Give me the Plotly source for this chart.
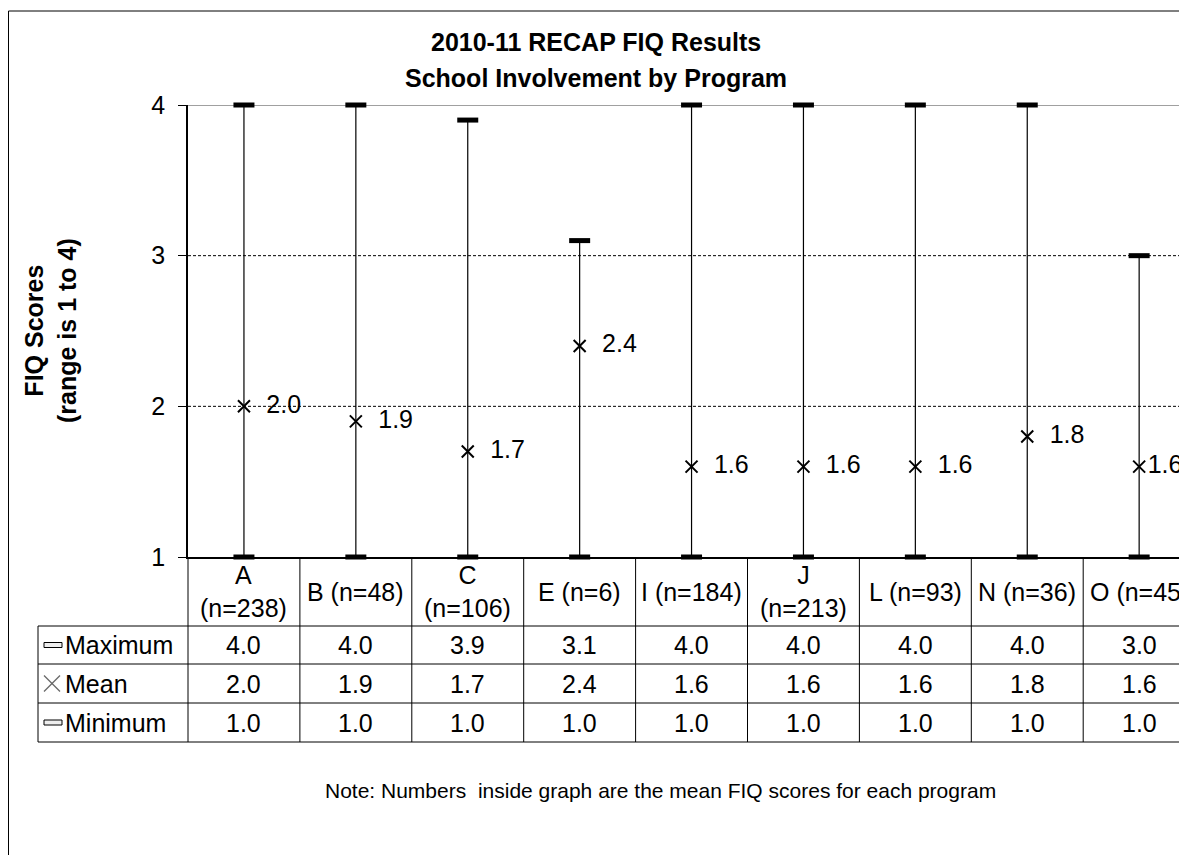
import plotly.graph_objects as go

# ---------------- data ----------------
programs = ["A", "B", "C", "E", "I", "J", "L", "N", "O"]
n_counts = [238, 48, 106, 6, 184, 213, 93, 36, 45]
max_scores = [4.0, 4.0, 3.9, 3.1, 4.0, 4.0, 4.0, 4.0, 3.0]
mean_scores = [2.0, 1.9, 1.7, 2.4, 1.6, 1.6, 1.6, 1.8, 1.6]
min_scores = [1.0, 1.0, 1.0, 1.0, 1.0, 1.0, 1.0, 1.0, 1.0]
wrapped = ["A", "C", "J"]          # header labels shown on two lines
y_ticks = [1, 2, 3, 4]
row_names = ["Maximum", "Mean", "Minimum"]

FONT = "Liberation Sans, Arial, sans-serif"
OFF = 8                      # page body margin of the html page
W, H = 1187 - OFF, 855 - OFF
ML, MR, MT, MB = 188 - OFF, 0, 105 - OFF, 298
PW, PH = W - ML - MR, H - MT - MB


def px_x(p):   # page pixel -> paper x
    return (p - OFF - ML) / PW


def px_y(p):   # page pixel -> paper y
    return (H - MB - (p - OFF)) / PH


xs = list(range(len(programs)))
x_hi = -0.5 + PW / 111.9

fig = go.Figure()

# whiskers
wx, wy = [], []
for i, lo, hi in zip(xs, min_scores, max_scores):
    wx += [i, i, None]
    wy += [lo, hi, None]
fig.add_trace(go.Scatter(x=wx, y=wy, mode="lines",
                         line=dict(color="black", width=1.2),
                         hoverinfo="skip", showlegend=False, cliponaxis=False))

# caps (max / min)
for vals in (max_scores, min_scores):
    fig.add_trace(go.Scatter(x=xs, y=vals, mode="markers",
                             marker=dict(symbol="line-ew-open", size=15, color="black",
                                         line=dict(color="black", width=5)),
                             hoverinfo="skip", showlegend=False, cliponaxis=False))

# means with labels
labels = ["  " + f"{v:.1f}" for v in mean_scores]
labels[-1] = f"{mean_scores[-1]:.1f}"
fig.add_trace(go.Scatter(x=xs, y=mean_scores, mode="markers+text",
                         marker=dict(symbol="x-thin-open", size=12, color="black",
                                     line=dict(color="black", width=2)),
                         text=labels,
                         textposition="middle right",
                         textfont=dict(family=FONT, size=25, color="black"),
                         hoverinfo="skip", showlegend=False, cliponaxis=False))

shapes = []
annotations = []

# gridlines
for yv in (2, 3):
    shapes.append(dict(type="line", xref="paper", yref="y", x0=0, x1=1, y0=yv, y1=yv,
                       line=dict(color="black", width=1, dash="3px,2px"), layer="below"))
shapes.append(dict(type="line", xref="paper", yref="y", x0=0, x1=1, y0=4, y1=4,
                   line=dict(color="#808080", width=1.5), layer="below"))

# outer chart border
shapes.append(dict(type="rect", xref="paper", yref="paper",
                   x0=px_x(8.5), x1=px_x(1400), y0=px_y(1000), y1=px_y(11),
                   line=dict(color="black", width=1), fillcolor="rgba(0,0,0,0)"))

# data table
row_px = [626, 664, 703, 742]
line_style = dict(color="black", width=1)
for r in row_px:
    shapes.append(dict(type="line", xref="paper", yref="paper",
                       x0=px_x(38), x1=1.2, y0=px_y(r), y1=px_y(r), line=line_style))
shapes.append(dict(type="line", xref="paper", yref="paper",
                   x0=px_x(38), x1=px_x(38), y0=px_y(626), y1=px_y(742), line=line_style))
shapes.append(dict(type="line", xref="paper", yref="paper",
                   x0=0, x1=0, y0=0, y1=px_y(742), line=line_style))
for i in xs[:-1]:
    shapes.append(dict(type="line", xref="x", yref="paper",
                       x0=i + 0.5, x1=i + 0.5, y0=0, y1=px_y(742), line=line_style))

tfont = dict(family=FONT, size=25, color="black")
hdr_y = px_y((557 + 626) / 2)
for i, p, n in zip(xs, programs, n_counts):
    sep = "<br>" if p in wrapped else " "
    annotations.append(dict(x=i, y=hdr_y, xref="x", yref="paper", showarrow=False,
                            text=f"{p}{sep}(n={n})", font=tfont,
                            xanchor="center", yanchor="middle"))

row_vals = [max_scores, mean_scores, min_scores]
for k, (name, vals) in enumerate(zip(row_names, row_vals)):
    yc = px_y((row_px[k] + row_px[k + 1]) / 2)
    annotations.append(dict(x=px_x(63), y=yc, xref="paper", yref="paper", showarrow=False,
                            text=name, font=tfont, xanchor="left", yanchor="middle"))
    for i, v in zip(xs, vals):
        annotations.append(dict(x=i, y=yc, xref="x", yref="paper", showarrow=False,
                                text=f"{v:.1f}", font=tfont,
                                xanchor="center", yanchor="middle"))

# legend keys in the table
for k in (0, 2):
    yc = (row_px[k] + row_px[k + 1]) / 2
    shapes.append(dict(type="rect", xref="paper", yref="paper",
                       x0=px_x(44), x1=px_x(62), y0=px_y(yc + 2.5), y1=px_y(yc - 2.5),
                       line=dict(color="black", width=1), fillcolor="#eeeeee"))
yc = (row_px[1] + row_px[2]) / 2
for (a, b) in ((-8, 8), (8, -8)):
    shapes.append(dict(type="line", xref="paper", yref="paper",
                       x0=px_x(52 - 8), x1=px_x(52 + 8), y0=px_y(yc + a), y1=px_y(yc + b),
                       line=dict(color="#666666", width=1.2)))

# titles
tt = dict(family=FONT, size=25, color="black")
annotations.append(dict(x=px_x(596), y=px_y(42), xref="paper", yref="paper", showarrow=False,
                        text="<b>2010-11 RECAP FIQ Results</b>", font=tt,
                        xanchor="center", yanchor="middle"))
annotations.append(dict(x=px_x(596), y=px_y(78), xref="paper", yref="paper", showarrow=False,
                        text="<b>School Involvement by Program</b>", font=tt,
                        xanchor="center", yanchor="middle"))
annotations.append(dict(x=px_x(50), y=0.5, xref="paper", yref="paper", showarrow=False,
                        text="<b>FIQ Scores<br>(range is 1 to 4)</b>", font=tt,
                        textangle=-90, xanchor="center", yanchor="middle"))
annotations.append(dict(x=px_x(660), y=px_y(790), xref="paper", yref="paper", showarrow=False,
                        text="Note: Numbers  inside graph are the mean FIQ scores for each program",
                        font=dict(family=FONT, size=21, color="black"),
                        xanchor="center", yanchor="middle"))

fig.update_layout(
    width=W, height=H,
    margin=dict(l=ML, r=MR, t=MT, b=MB, pad=0),
    paper_bgcolor="white", plot_bgcolor="white",
    showlegend=False,
    shapes=shapes, annotations=annotations,
    xaxis=dict(range=[-0.5, x_hi], showgrid=False, zeroline=False, showticklabels=False,
               ticks="", showline=True, linecolor="black", linewidth=1.5, fixedrange=True),
    yaxis=dict(range=[1, 4], tickvals=y_ticks, ticktext=[str(t) for t in y_ticks],
               showgrid=False, zeroline=False, showline=True, linecolor="black", linewidth=1.5,
               ticks="outside", ticklen=8, tickcolor="black", tickwidth=1,
               ticklabelstandoff=8,
               tickfont=dict(family=FONT, size=25, color="black"), fixedrange=True),
)

fig.write_html("out.html")
